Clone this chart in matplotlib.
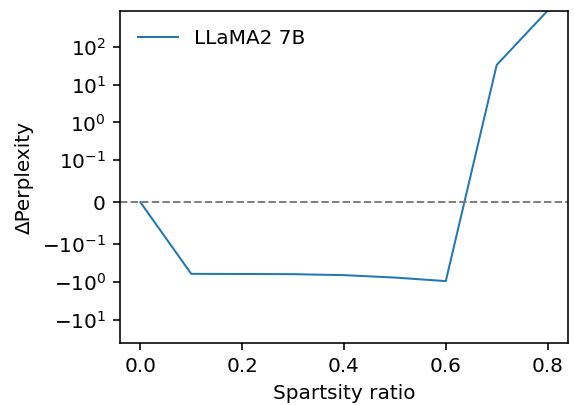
import numpy as np
import matplotlib.pyplot as plt
from matplotlib import rcParams

rcParams['font.family'] = 'DejaVu Sans'
rcParams['font.size'] = 10

# 数据
sparsity = [0.0, 0.1, 0.2, 0.3, 0.4, 0.5, 0.6, 0.7, 0.8]
delta_ppl = [0.0, -0.61, -0.615, -0.622, -0.66, -0.765, -0.95, 33.0, 900.0]

fig, ax = plt.subplots(figsize=(574 / 144, 405 / 144), dpi=144)
fig.set_facecolor('white')

ax.plot(sparsity, delta_ppl, color='#1f77b4', linewidth=1.0, label='LLaMA2 7B')
ax.axhline(0, color='gray', linestyle='--', linewidth=1.0)

ax.set_yscale('symlog', linthresh=0.1)
ax.set_ylim(-42, 900)
ax.set_xticks([0.0, 0.2, 0.4, 0.6, 0.8])

ax.set_xlabel('Spartsity ratio')
ax.set_ylabel('ΔPerplexity')

ax.legend(loc='upper left', frameon=False)

plt.subplots_adjust(left=0.209, right=0.9895, top=0.9736, bottom=0.1523)

plt.savefig('out.png', dpi=144, facecolor='white')
